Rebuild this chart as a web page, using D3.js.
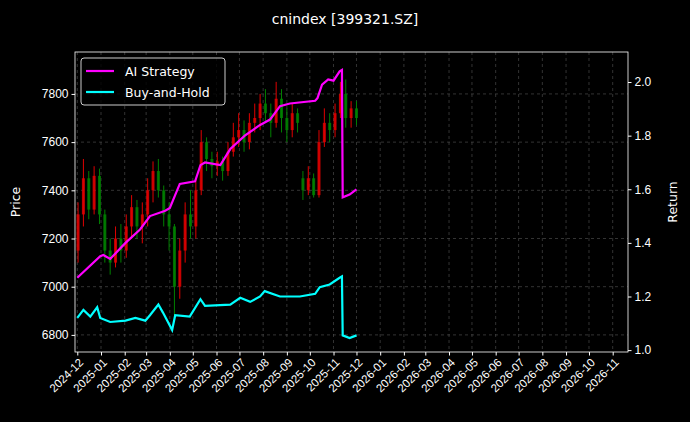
<!DOCTYPE html><html><head><meta charset="utf-8"><script src="https://cdn.jsdelivr.net/npm/d3@7"></script>
<style>body{margin:0;background:#000}svg{font-family:"DejaVu Sans",sans-serif}</style></head><body><svg id="c" width="690" height="422"></svg>
<script>
const candleOpen=[7150,7300,7450,7320,7460,7300,7150,7100,7200,7150,7250,7330,7250,7300,7400,7480,7400,7300,7250,7000,7150,7300,7250,7400,7600,7530,7500,7520,7480,7560,7620,7650,7600,7680,7700,7760,7720,7680,7780,7700,7650,7720,7450,7400,7450,7380,7600,7680,7650,7720,7800,7700,7740];
const candleClose=[7300,7450,7320,7460,7300,7150,7100,7200,7150,7250,7330,7250,7300,7400,7480,7400,7300,7250,7000,7150,7300,7250,7400,7600,7530,7500,7520,7480,7560,7620,7650,7600,7680,7700,7760,7720,7680,7780,7700,7650,7720,7680,7400,7450,7380,7600,7680,7650,7720,7800,7700,7740,7700];
const candleHigh=[7350,7530,7480,7500,7490,7320,7200,7250,7260,7300,7380,7360,7350,7450,7520,7530,7420,7350,7260,7200,7350,7400,7450,7650,7620,7560,7560,7540,7600,7680,7720,7690,7720,7760,7800,7820,7760,7850,7820,7740,7760,7740,7480,7500,7470,7650,7740,7720,7760,7850,7860,7770,7770];
const candleLow=[7100,7250,7280,7300,7260,7100,7050,7080,7100,7120,7200,7200,7180,7250,7350,7370,7250,7150,6870,6950,7100,7200,7200,7380,7480,7450,7460,7440,7460,7540,7580,7560,7570,7640,7650,7680,7620,7660,7640,7600,7620,7640,7360,7380,7370,7370,7580,7600,7620,7700,7660,7660,7670];
const candleStart="2024-12-02";
const aiDates=["2024-12-01","2024-12-31","2025-01-04","2025-01-13","2025-02-02","2025-02-21","2025-03-06","2025-03-26","2025-04-01","2025-04-14","2025-05-04","2025-05-11","2025-05-17","2025-06-06","2025-06-19","2025-07-08","2025-07-28","2025-08-10","2025-08-23","2025-09-05","2025-10-08","2025-10-11","2025-10-17","2025-10-25","2025-11-01","2025-11-09","2025-11-12","2025-11-13","2025-11-22","2025-12-01"];
const aiValues=[1.27,1.35,1.355,1.34,1.40,1.45,1.50,1.52,1.53,1.62,1.63,1.69,1.70,1.69,1.75,1.80,1.84,1.86,1.91,1.92,1.93,1.94,1.99,2.01,2.005,2.04,2.045,1.57,1.58,1.60];
const bhDates=["2024-12-01","2024-12-09","2024-12-18","2024-12-27","2024-12-31","2025-01-13","2025-02-02","2025-02-15","2025-02-28","2025-03-06","2025-03-17","2025-03-23","2025-04-04","2025-04-08","2025-04-27","2025-05-11","2025-05-17","2025-06-19","2025-07-02","2025-07-15","2025-07-28","2025-08-03","2025-08-23","2025-09-18","2025-10-08","2025-10-14","2025-10-27","2025-11-09","2025-11-12","2025-11-13","2025-11-22","2025-12-01"];
const bhValues=[1.12,1.15,1.125,1.16,1.12,1.105,1.11,1.12,1.11,1.13,1.17,1.14,1.075,1.13,1.125,1.19,1.165,1.17,1.195,1.18,1.20,1.22,1.20,1.20,1.21,1.235,1.245,1.27,1.275,1.055,1.045,1.055];
const xTicks=d3.timeMonths(new Date(2024,11,1),new Date(2026,10,2));
const priceTicks=[6800,7000,7200,7400,7600,7800];
const returnTicks=[1.0,1.2,1.4,1.6,1.8,2.0];

const svg=d3.select("#c");
svg.append("rect").attr("width",690).attr("height",422).attr("fill","#000");
const L=75,R=628,T=52,B=352;
const x=d3.scaleTime().domain([new Date(2024,10,28),new Date(2026,10,21)]).range([L,R]);
const yP=d3.scaleLinear().domain([6729,7974]).range([B,T]);
const yR=d3.scaleLinear().domain([0.993,2.112]).range([B,T]);
const g=svg.append("g");
xTicks.forEach(t=>g.append("line").attr("x1",x(t)).attr("x2",x(t)).attr("y1",T).attr("y2",B).attr("stroke","#555").attr("stroke-dasharray","3,3").attr("stroke-width",0.6));
priceTicks.forEach(v=>g.append("line").attr("x1",L).attr("x2",R).attr("y1",yP(v)).attr("y2",yP(v)).attr("stroke","#555").attr("stroke-dasharray","3,3").attr("stroke-width",0.6));
const parse=d3.timeParse("%Y-%m-%d");
const s0=parse(candleStart);
candleOpen.forEach((o,i)=>{
  const d=d3.timeDay.offset(s0,7*i),c=candleClose[i];
  const col=c>=o?"#e00000":"#008000";
  const cx=x(d);
  g.append("line").attr("x1",cx).attr("x2",cx).attr("y1",yP(candleHigh[i])).attr("y2",yP(candleLow[i])).attr("stroke",col).attr("stroke-width",1);
  g.append("rect").attr("x",cx-1.5).attr("width",3).attr("y",yP(Math.max(o,c))).attr("height",Math.max(1,Math.abs(yP(o)-yP(c)))).attr("fill",col).attr("opacity",0.85);
});
const line=d3.line().x(d=>x(d[0])).y(d=>yR(d[1]));
g.append("path").datum(aiDates.map((d,i)=>[parse(d),aiValues[i]])).attr("d",line).attr("fill","none").attr("stroke","#ff00ff").attr("stroke-width",2.2);
g.append("path").datum(bhDates.map((d,i)=>[parse(d),bhValues[i]])).attr("d",line).attr("fill","none").attr("stroke","#00ffff").attr("stroke-width",2.2);
svg.append("rect").attr("x",L).attr("y",T).attr("width",R-L).attr("height",B-T).attr("fill","none").attr("stroke","#fff").attr("stroke-width",0.8);
const ax=svg.append("g").attr("transform",`translate(0,${B})`).call(d3.axisBottom(x).tickValues(xTicks).tickFormat(d3.timeFormat("%Y-%m")).tickSize(3.5));
ax.selectAll("text").attr("text-anchor","end").attr("transform","rotate(-45)").attr("dx","-0.3em").attr("dy","0.5em");
const ay=svg.append("g").attr("transform",`translate(${L},0)`).call(d3.axisLeft(yP).tickValues(priceTicks).tickFormat(d3.format("d")).tickSize(3.5));
const ar=svg.append("g").attr("transform",`translate(${R},0)`).call(d3.axisRight(yR).tickValues(returnTicks).tickFormat(d3.format(".1f")).tickSize(3.5));
[ax,ay,ar].forEach(a=>{a.select(".domain").remove();a.selectAll("line").attr("stroke","#fff");a.selectAll("text").attr("fill","#fff").attr("font-size",a===ax?11.5:12);});
svg.append("text").attr("x",345).attr("y",24).attr("text-anchor","middle").attr("fill","#fff").attr("font-size",14).text("cnindex [399321.SZ]");
svg.append("text").attr("transform","translate(20,202) rotate(-90)").attr("text-anchor","middle").attr("fill","#fff").attr("font-size",12.5).text("Price");
svg.append("text").attr("transform","translate(677,202) rotate(-90)").attr("text-anchor","middle").attr("fill","#fff").attr("font-size",12.5).text("Return");
const lg=svg.append("g").attr("transform","translate(81,58)");
lg.append("rect").attr("width",144).attr("height",47).attr("rx",3).attr("fill","#000").attr("fill-opacity",0.8).attr("stroke","#ccc");
[["AI Strategy","#ff00ff"],["Buy-and-Hold","#00ffff"]].forEach((e,i)=>{
  lg.append("line").attr("x1",5).attr("x2",33).attr("y1",13+i*21).attr("y2",13+i*21).attr("stroke",e[1]).attr("stroke-width",2.2);
  lg.append("text").attr("x",44).attr("y",17.5+i*21).attr("fill","#fff").attr("font-size",12.5).text(e[0]);
});
</script></body></html>
